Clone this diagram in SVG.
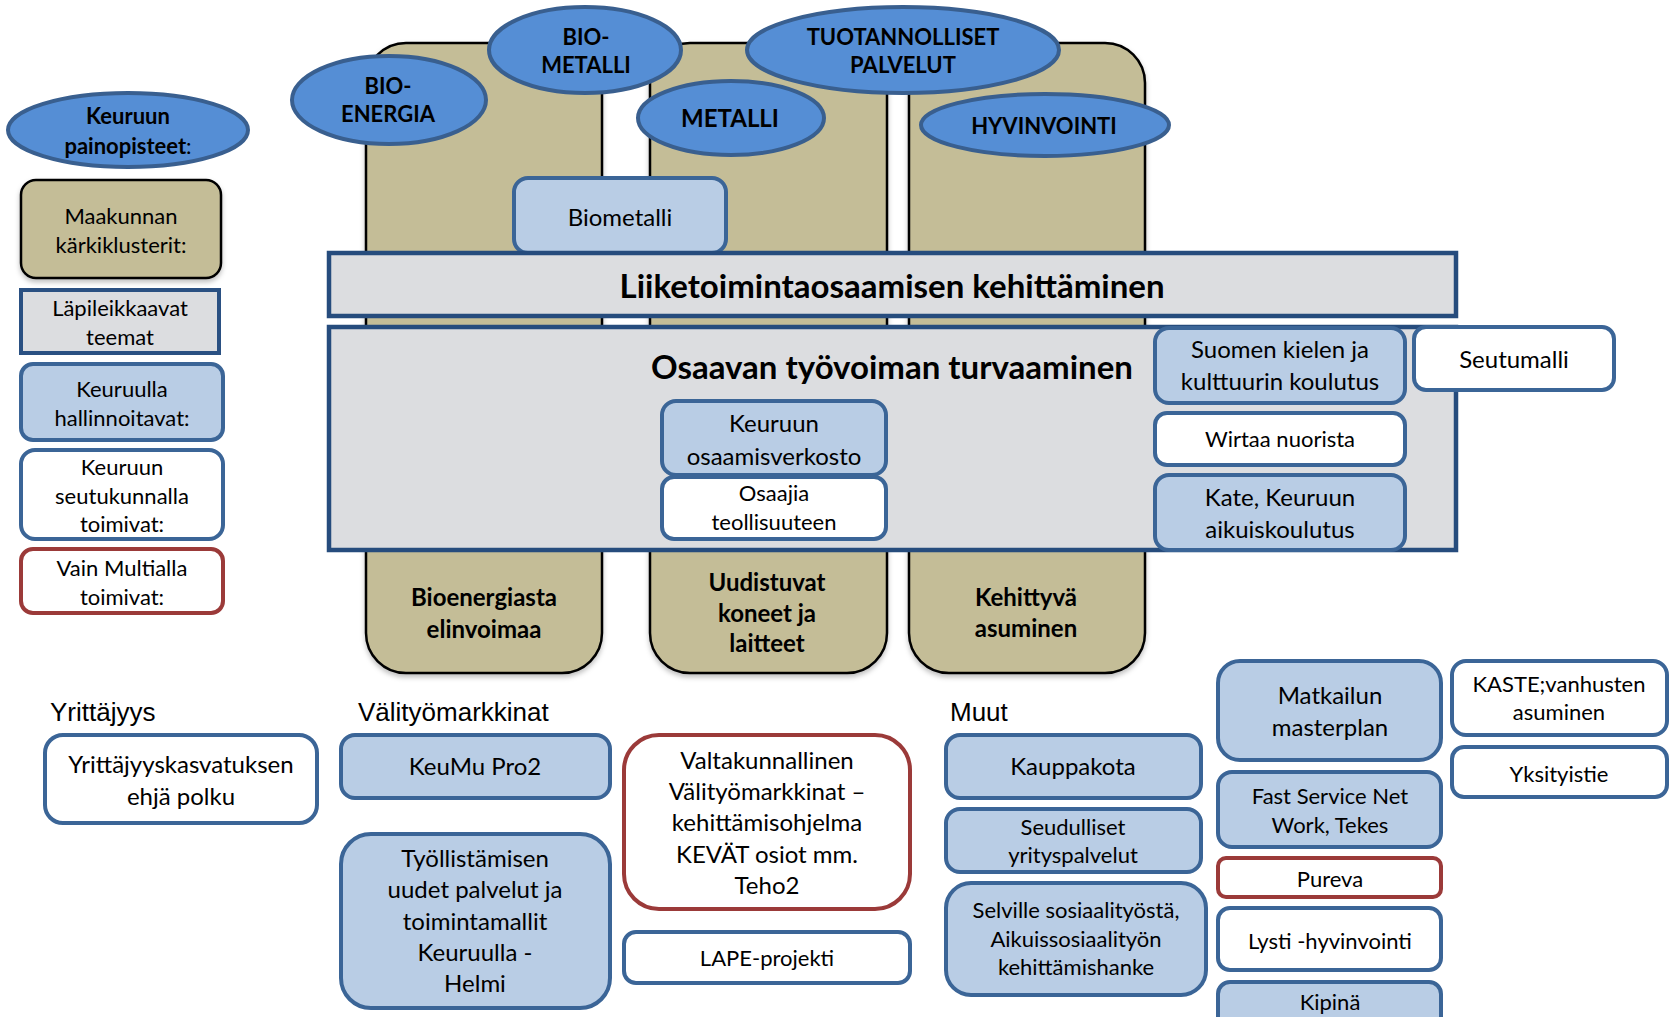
<svg xmlns="http://www.w3.org/2000/svg" width="1676" height="1017" viewBox="0 0 1676 1017">
<defs>
<filter id="sh" x="-10%" y="-10%" width="120%" height="120%">
<feDropShadow dx="0" dy="3" stdDeviation="2.5" flood-color="#000" flood-opacity="0.25"/>
</filter>
</defs>
<style>
.col{fill:#c4bd97;stroke:#000;stroke-width:2.5}
.ell{fill:#558ed5;stroke:#395f8f;stroke-width:4}
.bar{fill:#dcdde0;stroke:#264c7d;stroke-width:4.5}
.gb{fill:#dcdde0;stroke:#2a5082;stroke-width:4}
.lb{fill:#b9cde5;stroke:#3b6597;stroke-width:4}
.wb{fill:#fff;stroke:#3b6597;stroke-width:4}
.rb{fill:#fff;stroke:#9b3a39;stroke-width:4}
text{font-family:Lato,"Open Sans","Liberation Sans",sans-serif;text-anchor:middle;fill:#000}
.m{font-size:24px}
.s{font-size:22px}
.b{font-size:24px;font-weight:bold}
.e{font-size:22px;font-weight:bold}
.big{font-size:33px;font-weight:bold}
.h{font-family:"Liberation Sans",Arial,sans-serif;font-size:26px;text-anchor:start}
</style>

<g id="legend-title">
<ellipse class="ell" cx="128" cy="130" rx="120" ry="37"/>
<text class="e" x="128" y="124">Keuruun</text>
<text class="e" x="128" y="154">painopisteet<tspan font-weight="normal">:</tspan></text>
</g>
<g id="legend-maakunnan">
<rect class="col" x="21" y="180" width="200" height="98" rx="15" filter="url(#sh)"/>
<text class="s" x="121" y="224">Maakunnan</text>
<text class="s" x="121" y="253">kärkiklusterit:</text>
</g>
<g id="legend-lapileikkaavat">
<rect class="gb" x="21" y="290" width="198" height="63"/>
<text class="s" x="120" y="316">Läpileikkaavat</text>
<text class="s" x="120" y="345">teemat</text>
</g>
<g id="legend-keuruulla">
<rect class="lb" x="21" y="364" width="202" height="76" rx="12"/>
<text class="s" x="122" y="397">Keuruulla</text>
<text class="s" x="122" y="426">hallinnoitavat:</text>
</g>
<g id="legend-seutukunnalla">
<rect class="wb" x="21" y="450" width="202" height="89" rx="14"/>
<text class="s" x="122" y="475">Keuruun</text>
<text class="s" x="122" y="504">seutukunnalla</text>
<text class="s" x="122" y="532">toimivat:</text>
</g>
<g id="legend-multialla">
<rect class="rb" x="21" y="549" width="202" height="64" rx="12"/>
<text class="s" x="122" y="576">Vain Multialla</text>
<text class="s" x="122" y="605">toimivat:</text>
</g>

<g id="col-bioenergia">
<rect class="col" x="366" y="43" width="236" height="630" rx="40" filter="url(#sh)"/>
</g>
<g id="col-koneet">
<rect class="col" x="650" y="43" width="237" height="630" rx="40" filter="url(#sh)"/>
</g>
<g id="col-asuminen">
<rect class="col" x="909" y="43" width="236" height="630" rx="40" filter="url(#sh)"/>
</g>

<g id="ell-bioenergia">
<ellipse class="ell" cx="389" cy="100" rx="97" ry="44"/>
<text class="e" x="388" y="94">BIO-</text>
<text class="e" x="388" y="122">ENERGIA</text>
</g>
<g id="ell-biometalli">
<ellipse class="ell" cx="585" cy="50" rx="96" ry="43"/>
<text class="e" x="586" y="45">BIO-</text>
<text class="e" x="586" y="73">METALLI</text>
</g>
<g id="ell-tuotannolliset">
<ellipse class="ell" cx="903" cy="50" rx="156" ry="43"/>
<text class="e" x="903" y="45">TUOTANNOLLISET</text>
<text class="e" x="903" y="73">PALVELUT</text>
</g>
<g id="ell-metalli">
<ellipse class="ell" cx="731" cy="118" rx="93" ry="37"/>
<text class="b" x="730" y="127">METALLI</text>
</g>
<g id="ell-hyvinvointi">
<ellipse class="ell" cx="1045" cy="125" rx="124" ry="31"/>
<text class="e" x="1044" y="134">HYVINVOINTI</text>
</g>

<g id="biometalli">
<rect class="lb" x="514" y="178" width="212" height="75" rx="14"/>
<text class="m" x="620" y="226">Biometalli</text>
</g>

<g id="bar-liiketoiminta">
<rect class="bar" x="329" y="253" width="1127" height="63"/>
<text class="big" x="892" y="298">Liiketoimintaosaamisen kehittäminen</text>
</g>
<g id="bar-osaavan">
<rect class="bar" x="329" y="327" width="1127" height="223"/>
<text class="big" x="892" y="379">Osaavan työvoiman turvaaminen</text>
</g>

<g id="keuruun-osaamisverkosto">
<rect class="lb" x="662" y="401" width="224" height="74" rx="14"/>
<text class="m" x="774" y="432">Keuruun</text>
<text class="m" x="774" y="465">osaamisverkosto</text>
</g>
<g id="osaajia">
<rect class="wb" x="662" y="477" width="224" height="62" rx="12"/>
<text class="s" x="774" y="501">Osaajia</text>
<text class="s" x="774" y="530">teollisuuteen</text>
</g>
<g id="suomen-kielen">
<rect class="lb" x="1155" y="328" width="250" height="75" rx="14"/>
<text class="m" x="1280" y="358">Suomen kielen ja</text>
<text class="m" x="1280" y="390">kulttuurin koulutus</text>
</g>
<g id="seutumalli">
<rect class="wb" x="1414" y="327" width="200" height="63" rx="12"/>
<text class="m" x="1514" y="368">Seutumalli</text>
</g>
<g id="wirtaa">
<rect class="wb" x="1155" y="413" width="250" height="52" rx="12"/>
<text class="s" x="1280" y="447">Wirtaa nuorista</text>
</g>
<g id="kate">
<rect class="lb" x="1155" y="475" width="250" height="75" rx="14"/>
<text class="m" x="1280" y="506">Kate, Keuruun</text>
<text class="m" x="1280" y="538">aikuiskoulutus</text>
</g>

<g id="label-bioenergiasta">
<text class="b" x="484" y="606">Bioenergiasta</text>
<text class="b" x="484" y="638">elinvoimaa</text>
</g>
<g id="label-uudistuvat">
<text class="b" x="767" y="591">Uudistuvat</text>
<text class="b" x="767" y="622">koneet ja</text>
<text class="b" x="767" y="652">laitteet</text>
</g>
<g id="label-kehittyva">
<text class="b" x="1026" y="606">Kehittyvä</text>
<text class="b" x="1026" y="637">asuminen</text>
</g>

<g id="headings">
<text class="h" x="50" y="721">Yrittäjyys</text>
<text class="h" x="358" y="721">Välityömarkkinat</text>
<text class="h" x="950" y="721">Muut</text>
</g>

<g id="yrittajyyskasvatus">
<rect class="wb" x="45" y="735" width="272" height="88" rx="18"/>
<text class="m" x="181" y="773">Yrittäjyyskasvatuksen</text>
<text class="m" x="181" y="805">ehjä polku</text>
</g>
<g id="keumu">
<rect class="lb" x="341" y="735" width="269" height="63" rx="14"/>
<text class="m" x="475" y="775">KeuMu Pro2</text>
</g>
<g id="tyollistamisen">
<rect class="lb" x="341" y="834" width="269" height="174" rx="30"/>
<text class="m" x="475" y="867">Työllistämisen</text>
<text class="m" x="475" y="898">uudet palvelut ja</text>
<text class="m" x="475" y="930">toimintamallit</text>
<text class="m" x="475" y="961">Keuruulla -</text>
<text class="m" x="475" y="992">Helmi</text>
</g>
<g id="valtakunnallinen">
<rect class="rb" x="624" y="735" width="286" height="174" rx="35"/>
<text class="m" x="767" y="769">Valtakunnallinen</text>
<text class="m" x="767" y="800">Välityömarkkinat –</text>
<text class="m" x="767" y="831">kehittämisohjelma</text>
<text class="m" x="767" y="863">KEVÄT osiot mm.</text>
<text class="m" x="767" y="894">Teho2</text>
</g>
<g id="lape">
<rect class="wb" x="624" y="932" width="286" height="51" rx="12"/>
<text class="s" x="767" y="966">LAPE-projekti</text>
</g>
<g id="kauppakota">
<rect class="lb" x="946" y="735" width="255" height="63" rx="14"/>
<text class="m" x="1073" y="775">Kauppakota</text>
</g>
<g id="seudulliset">
<rect class="lb" x="946" y="809" width="255" height="63" rx="14"/>
<text class="s" x="1073" y="835">Seudulliset</text>
<text class="s" x="1073" y="863">yrityspalvelut</text>
</g>
<g id="selville">
<rect class="lb" x="946" y="883" width="260" height="112" rx="25"/>
<text class="s" x="1076" y="918">Selville sosiaalityöstä,</text>
<text class="s" x="1076" y="947">Aikuissosiaalityön</text>
<text class="s" x="1076" y="975">kehittämishanke</text>
</g>
<g id="matkailun">
<rect class="lb" x="1218" y="661" width="223" height="99" rx="22"/>
<text class="m" x="1330" y="704">Matkailun</text>
<text class="m" x="1330" y="736">masterplan</text>
</g>
<g id="kaste">
<rect class="wb" x="1452" y="661" width="215" height="74" rx="14"/>
<text class="s" x="1559" y="692">KASTE;vanhusten</text>
<text class="s" x="1559" y="720">asuminen</text>
</g>
<g id="yksityistie">
<rect class="wb" x="1452" y="747" width="215" height="50" rx="12"/>
<text class="s" x="1559" y="782">Yksityistie</text>
</g>
<g id="fast-service">
<rect class="lb" x="1218" y="772" width="223" height="75" rx="14"/>
<text class="s" x="1330" y="804">Fast Service Net</text>
<text class="s" x="1330" y="833">Work, Tekes</text>
</g>
<g id="pureva">
<rect class="rb" x="1218" y="858" width="223" height="39" rx="8"/>
<text class="s" x="1330" y="887">Pureva</text>
</g>
<g id="lysti">
<rect class="wb" x="1218" y="908" width="223" height="62" rx="12"/>
<text class="s" x="1330" y="949">Lysti -hyvinvointi</text>
</g>
<g id="kipina">
<rect class="lb" x="1218" y="982" width="223" height="60" rx="12"/>
<text class="s" x="1330" y="1010">Kipinä</text>
</g>
<g id="connectors"/>
</svg>
